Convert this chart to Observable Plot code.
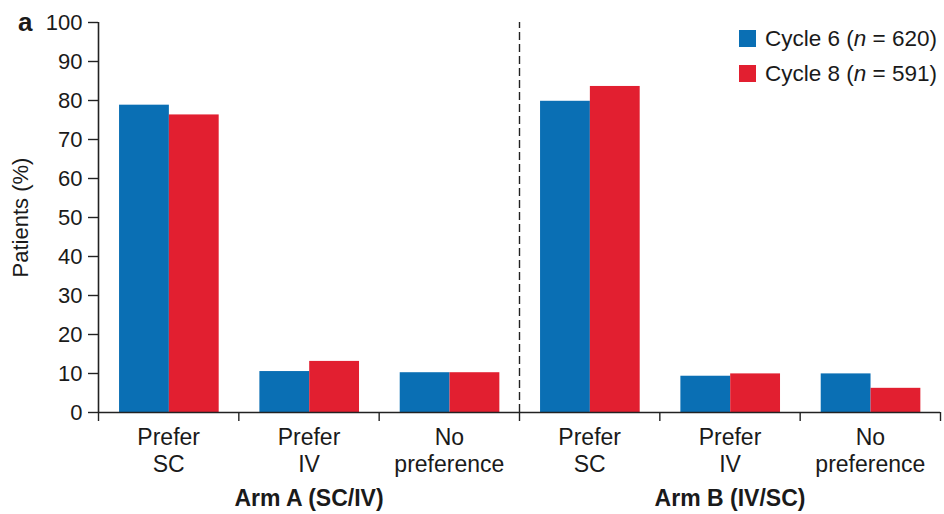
<!DOCTYPE html>
<html>
<head>
<meta charset="utf-8">
<script src="https://cdn.jsdelivr.net/npm/d3@7"></script>
<script src="https://cdn.jsdelivr.net/npm/@observablehq/plot@0.6"></script>
<style>
  html, body { margin: 0; padding: 0; background: #fff; }
  body { font-family: "Liberation Sans", Arial, Helvetica, sans-serif; color: #1a1a1a; }
  #wrap { position: relative; width: 944px; height: 514px; }
  #panel { position: absolute; left: 18px; top: 7px; font-family: "Liberation Sans", Arial, sans-serif; font-weight: bold; font-size: 26px; }
  #legend { position: absolute; left: 739px; top: 21px; font-family: "Liberation Sans", Arial, sans-serif; font-size: 22.5px; line-height: 35px; }
  #legend .row { display: flex; align-items: center; white-space: nowrap; }
  #legend .sw { width: 17px; height: 17px; margin-right: 9px; display: inline-block; }
</style>
</head>
<body>
<div id="wrap">
  <div id="chart"></div>
  <div id="panel">a</div>
  <div id="legend"></div>
</div>
<script>
// ---- data ----
const categories = ["Prefer\nSC", "Prefer\nIV", "No\npreference"];
const arms = ["Arm A (SC/IV)", "Arm B (IV/SC)"];
const series = ["Cycle 6", "Cycle 8"];
const seriesN = [620, 591];
const cycle6 = [78.8, 10.5, 10.2, 79.8, 9.3, 9.9];
const cycle8 = [76.3, 13.1, 10.2, 83.6, 9.9, 6.2];
const yTicks = [0, 10, 20, 30, 40, 50, 60, 70, 80, 90, 100];
const colors = ["#0a6fb4", "#e21f30"];

// ---- build table ----
const nCat = categories.length;
const rows = [];
arms.forEach((arm, a) => {
  categories.forEach((cat, c) => {
    const i = a * nCat + c;
    [cycle6, cycle8].forEach((vals, k) => {
      rows.push({ i, k, arm, cat, series: series[k], value: vals[i] });
    });
  });
});
const nGroups = arms.length * nCat;
const boundaries = d3.range(0, nGroups + 1);
const centers = d3.range(nGroups).map(i => i + 0.5);
const labelOf = new Map(centers.map((c, i) => [c, categories[i % nCat]]));
const armCenters = arms.map((a, j) => ({ arm: a, x: j * nCat + nCat / 2 }));

const padIn = 0.15, barW = 0.355;
const ff = '"Liberation Sans", Arial, Helvetica, sans-serif';

const chart = Plot.plot({
  width: 944,
  height: 514,
  marginLeft: 98,
  marginRight: 4,
  marginTop: 22,
  marginBottom: 102,
  style: { fontFamily: ff, color: "#1a1a1a", background: "#fff", overflow: "visible" },
  x: { type: "linear", domain: [0, nGroups], axis: null },
  y: { domain: [0, 100], axis: null },
  color: { domain: series, range: colors },
  marks: [
    Plot.rectY(rows, {
      x1: d => d.i + padIn + d.k * barW,
      x2: d => d.i + padIn + (d.k + 1) * barW,
      y1: 0,
      y2: "value",
      fill: "series"
    }),
    Plot.ruleX([nCat], { y1: 0, y2: 100, stroke: "#222", strokeWidth: 1.4, strokeDasharray: "8,4" }),
    // y axis
    Plot.axisY(yTicks, { anchor: "left", tickSize: 10, tickPadding: 6, fontSize: 22, label: null, stroke: "#222", strokeWidth: 1.4 }),
    Plot.ruleX([0], { y1: 0, y2: 100, stroke: "#222", strokeWidth: 1.6 }),
    // x axis ticks at group boundaries
    Plot.axisX(boundaries, { anchor: "bottom", tickSize: 9, tickFormat: () => "", label: null, stroke: "#222", strokeWidth: 1.4 }),
    Plot.ruleY([0], { stroke: "#222", strokeWidth: 1.6 }),
    // category labels
    Plot.axisX(centers, { anchor: "bottom", tickSize: 0, tickPadding: 13, tickFormat: d => labelOf.get(d), fontSize: 23, lineHeight: 1.17, label: null }),
    // arm labels
    Plot.text(armCenters, { x: "x", y: 0, text: "arm", dy: 86, fontSize: 23, fontWeight: "bold" }),
    // y title
    Plot.text(["Patients (%)"], { x: 0, y: 50, dx: -78, rotate: -90, textAnchor: "middle", fontSize: 22 })
  ]
});
document.getElementById("chart").appendChild(chart);

// legend
const lg = document.getElementById("legend");
series.forEach((s, k) => {
  const row = document.createElement("div");
  row.className = "row";
  row.innerHTML = `<span class="sw" style="background:${colors[k]}"></span><span>${s} (<i>n</i> = ${seriesN[k]})</span>`;
  lg.appendChild(row);
});
</script>
</body>
</html>
